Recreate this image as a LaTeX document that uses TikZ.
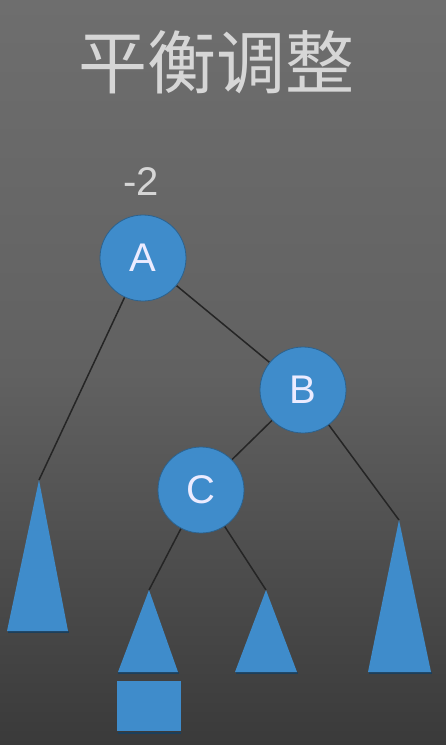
\documentclass[tikz,border=0pt]{standalone}
\usepackage{fontspec}
\setmainfont{Liberation Sans}
\newfontfamily\cjk{Noto Sans CJK SC}
\definecolor{nodeblue}{HTML}{3F8CCB}
\definecolor{edgecol}{HTML}{252525}
\definecolor{bgtop}{HTML}{6E6E6E}
\definecolor{bgbot}{HTML}{3A3A3A}
\definecolor{txtcol}{HTML}{D6D6D6}
\pgfdeclarelayer{bglayer}
\pgfdeclarelayer{edgelayer}
\pgfsetlayers{bglayer,edgelayer,main}
\tikzset{
  treenode/.style={circle, fill=nodeblue, draw=nodeblue!70!black, line width=0.8pt, minimum size=86pt, inner sep=0pt, text=white!92!blue, font=\fontsize{40}{40}\selectfont},
  edge/.style={draw=edgecol, line width=1.5pt},
  subtree/.style={fill=nodeblue},
  shadowline/.style={draw=nodeblue!45!black, line width=2pt},
}
\begin{document}
\begin{tikzpicture}[x=1pt,y=-1pt]
\useasboundingbox (0,0) rectangle (446,745);
\begin{pgfonlayer}{bglayer}
\shade[top color=bgtop, bottom color=bgbot, middle color=bgtop!75!bgbot] (0,0) rectangle (446,745);
\end{pgfonlayer}
% title
\node[text=txtcol, font=\cjk\fontsize{69}{69}\selectfont] (title) at (216,62) {平衡调整};
% subtree apexes
\coordinate (t1) at (39,480);
\coordinate (t2) at (149,590);
\coordinate (t3) at (266,590);
\coordinate (t4) at (399,520);
% nodes
\node[treenode] (A) at (143,258) {A};
\node[treenode] (B) at (303,390) {B};
\node[treenode] (C) at (201,490) {C};
\node[text=txtcol, font=\fontsize{40}{40}\selectfont] (bal) at (141,182) {-2};
% edges
\begin{pgfonlayer}{edgelayer}
\path[edge] (A) -- (t1);
\path[edge] (A) -- (B);
\path[edge] (B) -- (C);
\path[edge] (B) -- (t4);
\path[edge] (C) -- (t2);
\path[edge] (C) -- (t3);
\end{pgfonlayer}
% subtrees
\path[shadowline] (8,632) -- (69,632);
\path[subtree] (t1) -- (68,631) -- (7,631) -- cycle;
\path[shadowline] (118,673) -- (179,673);
\path[subtree] (t2) -- (178,672) -- (118,672) -- cycle;
\path[shadowline] (236,673) -- (298,673);
\path[subtree] (t3) -- (297,672) -- (235,672) -- cycle;
\path[shadowline] (369,673) -- (432,673);
\path[subtree] (t4) -- (431,672) -- (368,672) -- cycle;
\path[shadowline] (118,732.5) -- (181,732.5);
\path[subtree] (117,681) rectangle (181,731);
\end{tikzpicture}
\end{document}
